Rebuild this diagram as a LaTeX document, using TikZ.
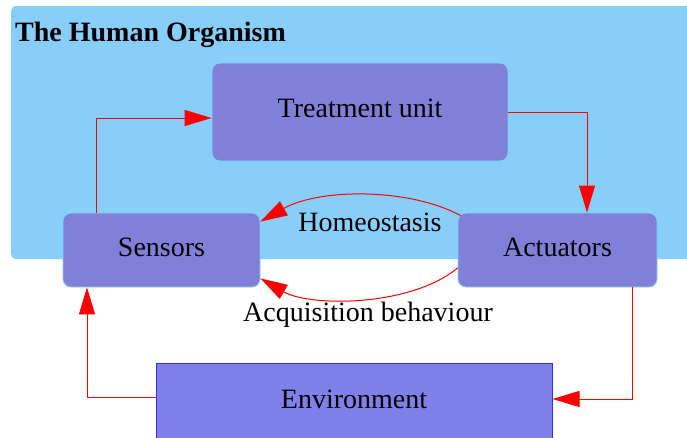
\documentclass[tikz,border=0pt]{standalone}
\usepackage{fontspec}
\setmainfont{Liberation Serif}
\usetikzlibrary{arrows.meta}
\definecolor{skyback}{RGB}{135,206,250}
\definecolor{unitfill}{RGB}{128,128,216}
\definecolor{envfill}{RGB}{128,128,232}
\definecolor{envline}{RGB}{48,48,224}
\definecolor{flowred}{RGB}{255,0,0}
\tikzset{
  unit/.style={rectangle, rounded corners=8pt, fill=unitfill, draw=skyback,
    line width=0.8pt, font=\fontsize{28}{30}\selectfont, text depth=6pt,
    inner sep=0pt},
  envbox/.style={rectangle, fill=envfill, draw=envline, line width=1pt,
    font=\fontsize{28}{30}\selectfont, text depth=6pt, inner sep=0pt},
  flow/.style={draw=flowred, line width=1pt,
    -{Triangle[length=27pt,width=16pt]}},
  caption/.style={font=\fontsize{28}{30}\selectfont, inner sep=0pt}
}
\begin{document}
\begin{tikzpicture}[x=1pt,y=-1pt]
\useasboundingbox (0,0) rectangle (687,437);
% the organism region
\fill[skyback, rounded corners=5pt] (11,6) rectangle (720,259);
\node[anchor=base west, font=\bfseries\fontsize{28}{30}\selectfont, inner sep=0pt]
  (title) at (15,41) {The Human Organism};

% units
\node[unit, minimum width=296pt, minimum height=98pt, text depth=8pt]
  (treat) at (360,112) {Treatment unit};
\node[unit, minimum width=197pt, minimum height=74pt]
  (sens) at (161.5,250) {Sensors};
\node[unit, minimum width=199pt, minimum height=74pt]
  (act) at (557.5,250) {Actuators};
\node[envbox, minimum width=396pt, minimum height=78pt]
  (env) at (354,402) {Environment};

% connectors
\draw[flow] ([xshift=-65.5pt]sens.north) |- ([yshift=-6pt]treat.west);
\draw[flow] (treat.east) -| ([xshift=29.5pt]act.north);
\draw[flow] ([xshift=74.5pt]act.south) |- ([yshift=3pt]env.east);
\draw[flow] ([yshift=5pt]env.west) -| ([xshift=-74.5pt]sens.south);

\draw[flow] ([xshift=3pt,yshift=-3pt]act.north west)
  .. controls (410,188) and (320,188) .. ([yshift=-9pt]sens.north east);
\draw[flow] ([yshift=-18pt]act.west)
  .. controls (410,307) and (310,307) .. ([yshift=9pt]sens.south east);

\node[caption] (homeo) at (370,222) {Homeostasis};
\node[caption] (acq) at (368,315) {Acquisition behaviour};
\end{tikzpicture}
\end{document}
